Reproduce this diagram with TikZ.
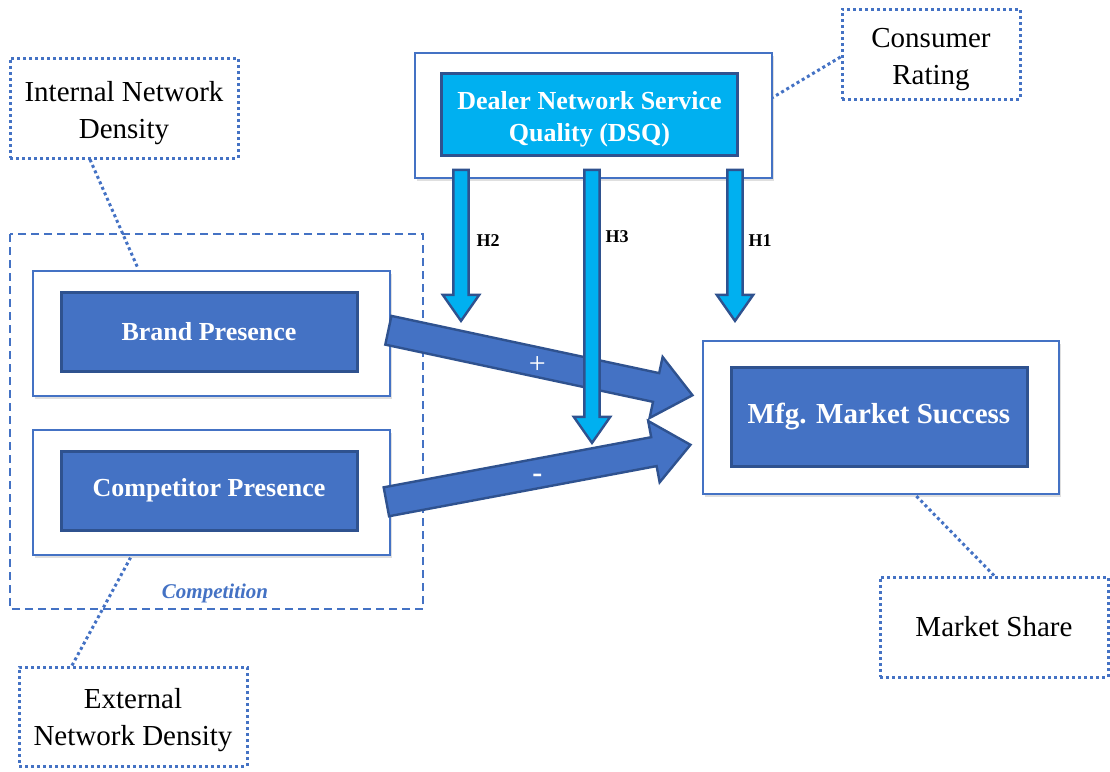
\documentclass[tikz,border=0pt]{standalone}
\usepackage{fontspec}
\setmainfont{Liberation Serif}
\usetikzlibrary{shapes.arrows,shadows,calc}

\definecolor{boxblue}{HTML}{4472C4}
\definecolor{edgeblue}{HTML}{2F528F}
\definecolor{dsqcyan}{HTML}{00B0F0}

\begin{document}
\begin{tikzpicture}[
    x=0.5pt, y=-0.5pt,
    outerbox/.style={draw=boxblue, line width=0.7pt, fill=white,
                minimum width=178.5pt, minimum height=62.5pt,
                drop shadow={shadow xshift=1pt, shadow yshift=-1.5pt, opacity=0.25}},
    innerbox/.style={draw=edgeblue, line width=1.5pt, fill=boxblue, text=white,
                minimum width=148pt, minimum height=39.5pt, align=center,
                font=\bfseries\fontsize{13}{16}\selectfont},
    measure/.style={draw=boxblue, line width=1.5pt, dash pattern=on 1.5pt off 1.5pt,
                fill=white, minimum width=114pt, minimum height=50pt, align=center,
                inner sep=1pt, font=\fontsize{14.5}{18.5}\selectfont},
    link/.style={draw=boxblue, line width=1.5pt, dash pattern=on 1.5pt off 1.5pt},
    bigarrow/.style={single arrow, draw=edgeblue, line width=1.2pt, fill=boxblue,
                inner xsep=0pt, inner ysep=6.75pt, single arrow head extend=8.25pt,
                single arrow tip angle=80, allow upside down, anchor=tail},
    modarrow/.style={single arrow, draw=edgeblue, line width=1.2pt, fill=dsqcyan,
                inner xsep=0pt, inner ysep=3.2pt, single arrow head extend=5.3pt,
                single arrow tip angle=70, allow upside down, anchor=tail},
    hlabel/.style={font=\bfseries\fontsize{9}{10}\selectfont},
]
\useasboundingbox (0,0) rectangle (1110,772);

% Competition group
\draw[boxblue, line width=0.6pt, dash pattern=on 4pt off 2.5pt] (10,234) rectangle (423,609);
\node[text=boxblue, font=\bfseries\itshape\fontsize{10.5}{12}\selectfont] (complabel) at (215,593) {Competition};

% Constructs
\node[outerbox] (brandout) at (211.5,333.5) {};
\node[innerbox] (brand) at (209,331.5) {Brand Presence};
\node[outerbox] (compout) at (211.5,492.5) {};
\node[innerbox] (comp) at (209,490.5) {Competitor Presence};
\node[outerbox] (dsqout) at (593.5,115.5) {};
\node[innerbox, fill=dsqcyan, minimum height=41pt, inner sep=1pt] (dsq) at (589.5,114)
    {\rule{0pt}{14.5pt}Dealer Network Service\\Quality (DSQ)};
\node[outerbox, minimum width=178pt, minimum height=76.5pt] (mfgout) at (881,417.5) {};
\node[innerbox, minimum height=49.5pt, font=\bfseries\fontsize{14.5}{17}\selectfont] (mfg)
    at (879,416.5) {Mfg. Market Success};

% Measures
\node[measure] (intnd) at (124,108) {\rule{0pt}{15pt}Internal Network\\Density};
\node[measure, minimum width=89pt, minimum height=45pt] (conrat) at (931,54)
    {\rule{0pt}{15pt}Consumer\\Rating};
\node[measure, minimum height=49.5pt] (extnd) at (133,716.5)
    {\rule{0pt}{14pt}External\\Network Density};
\node[measure] (mshare) at (994,627) {Market Share};

% Measure links
\draw[link] ($(intnd.south)+(-34,0)$) -- ($(brandout.north)+(-74,-3)$);
\draw[link] ($(conrat.west)+(0,3)$) -- ($(dsqout.east)+(0,-18)$);
\draw[link] ($(extnd.north)+(-61,0)$) -- ($(compout.south)+(-81,2)$);
\draw[link] (mshare.north) -- ($(mfgout.south)+(34,0)$);

% Direct effects
\coordinate (btail) at ($(brandout.east)+(-3.5,-3.5)$);
\coordinate (btip) at ($(mfgout.west)+(-11,-22.5)$);
\coordinate (ctail) at ($(compout.east)+(-5.5,9.5)$);
\coordinate (ctip) at ($(mfgout.west)+(-13,27.5)$);
\path let \p1=($(btip)-(btail)$), \n1={veclen(\x1,\y1)} in
    (btail) -- (btip) node[pos=0, sloped, bigarrow, minimum height=\n1] (beffect) {};
\path let \p1=($(ctip)-(ctail)$), \n1={veclen(\x1,\y1)} in
    (ctail) -- (ctip) node[pos=0, sloped, bigarrow, minimum height=\n1] (ceffect) {};
\node[text=white, font=\fontsize{15}{15}\selectfont] (plus) at ($(btail)!0.5!(btip)+(-2,3)$) {+};
\node[text=white, font=\bfseries\fontsize{15}{15}\selectfont] (minus) at ($(ctail)!0.5!(ctip)+(0,5)$) {-};

% DSQ effects
\coordinate (h2top) at ($(dsqout.south)+(-132.5,-10)$);
\coordinate (h2tip) at ($(dsqout.south)+(-132.5,141)$);
\coordinate (h3top) at ($(dsqout.south)+(-1.5,-10)$);
\coordinate (h3tip) at ($(dsqout.south)+(-1.5,263)$);
\coordinate (h1top) at ($(dsqout.south)+(141.5,-10)$);
\coordinate (h1tip) at ($(dsqout.south)+(141.5,141)$);
\foreach \h in {h2,h3,h1}{
    \path let \p1=($(\h tip)-(\h top)$), \n1={veclen(\x1,\y1)} in
        (\h top) -- (\h tip) node[pos=0, sloped, modarrow, minimum height=\n1] {};
}
\node[hlabel] (h2label) at ($(h2top)+(27,72)$) {H2};
\node[hlabel] (h3label) at ($(h3top)+(25,68)$) {H3};
\node[hlabel] (h1label) at ($(h1top)+(25,72)$) {H1};

\end{tikzpicture}
\end{document}
